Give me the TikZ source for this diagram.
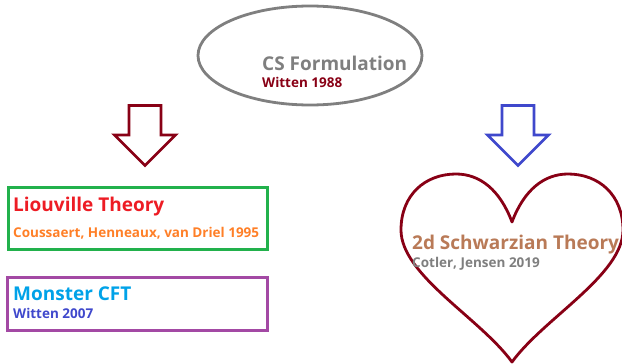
\documentclass[tikz,border=0pt]{standalone}
\usepackage{fontspec}
\setmainfont{Open Sans}
\usetikzlibrary{shapes.geometric}

\definecolor{csgray}{HTML}{7F7F7F}
\definecolor{darkred}{HTML}{880015}
\definecolor{arrowblue}{HTML}{3F48CC}
\definecolor{boxgreen}{HTML}{22B14C}
\definecolor{boxpurple}{HTML}{A349A4}
\definecolor{lioured}{HTML}{ED1C24}
\definecolor{liouorange}{HTML}{FF7F27}
\definecolor{monsterblue}{HTML}{00A2E8}
\definecolor{schwbrown}{HTML}{B97A57}

\tikzset{
  title/.style={anchor=base west, inner sep=0pt, font=\bfseries\fontsize{19}{19}\selectfont},
  cite/.style={anchor=base west, inner sep=0pt, font=\bfseries\fontsize{13.5}{13.5}\selectfont},
  box/.style={draw, line width=2.8pt, inner sep=0pt},
  blockarrow/.style={line width=2.8pt, line join=miter, fill=white},
}

\begin{document}
\begin{tikzpicture}[x=1pt, y=-1pt]
  \useasboundingbox (0,0) rectangle (622,364);

  % formulation
  \node[ellipse, draw=csgray, line width=2.8pt, minimum width=224pt, minimum height=99pt] (cs) at (310,55.5) {};
  \node[title, csgray] (cstitle) at (262,70) {CS Formulation};
  \node[cite, darkred] (cscite) at (262,87) {Witten 1988};

  % arrows
  \foreach \cx/\col in {145/darkred, 518/arrowblue}
    \draw[blockarrow, draw=\col] (\cx-16,105.5) -- (\cx+16,105.5) -- (\cx+16,135) -- (\cx+30.5,135)
      -- (\cx,165.5) -- (\cx-30.5,135) -- (\cx-16,135) -- cycle;

  % left side
  \node[box, boxgreen, minimum width=259pt, minimum height=62pt] (liouville) at (138,218.5) {};
  \node[title, lioured] (lioutitle) at (13,211) {Liouville Theory};
  \node[cite, liouorange] (lioucite) at (13,237) {Coussaert, Henneaux, van Driel 1995};

  \node[box, boxpurple, minimum width=260pt, minimum height=53pt] (monster) at (137.5,304) {};
  \node[title, monsterblue] (monstertitle) at (13,300) {Monster CFT};
  \node[cite, arrowblue] (monstercite) at (13,318) {Witten 2007};

  % heart
  \draw[darkred, line width=2.8pt, line join=round]
    (512,222) .. controls (500,190) and (480,174) .. (456,174)
    .. controls (425,174) and (401,195) .. (401,230)
    .. controls (401,275) and (480,318) .. (512,362)
    .. controls (544,318) and (623,275) .. (623,230)
    .. controls (623,195) and (599,174) .. (568,174)
    .. controls (544,174) and (524,190) .. (512,222) -- cycle;
  \node[title, schwbrown] (schwtitle) at (412,249) {2d Schwarzian Theory};
  \node[cite, csgray] (schwcite) at (412,267) {Cotler, Jensen 2019};
\end{tikzpicture}
\end{document}
